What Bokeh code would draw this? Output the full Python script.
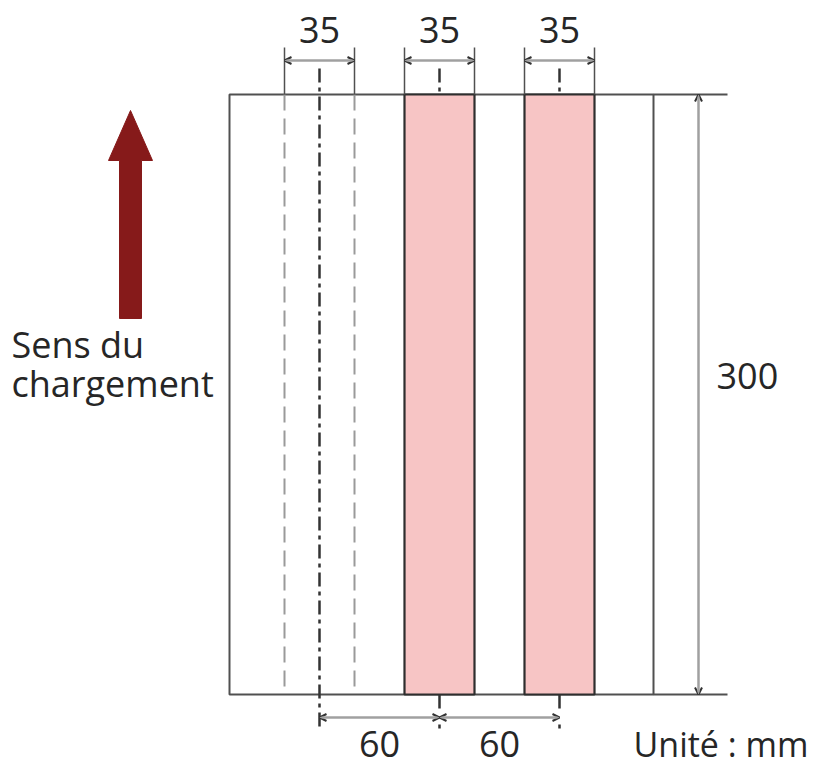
from bokeh.plotting import figure
from bokeh.models import Range1d, ColumnDataSource, Arrow, OpenHead
from bokeh.core.properties import value
from bokeh.embed import file_html
from bokeh.resources import INLINE

# ---- data (mm) ----
paper_width = 212
paper_height = 300
strip_width = 35
first_center = 45
center_spacings = [60, 60]
highlighted = [False, True, True]
strip_labels = ["35", "35", "35"]
spacing_labels = ["60", "60"]
height_label = "300"
unit_label = "Unité : mm"
direction_lines = ["Sens du", "chargement"]

centers = [first_center]
for s in center_spacings:
    centers.append(centers[-1] + s)

FONT = value("Open Sans")
TXT = "#262626"
EDGE = "#505050"
TY = 7  # baseline correction for svg text placement

p = figure(width=815, height=769, output_backend="svg", toolbar_location=None,
           x_range=Range1d(-114.5, 293), y_range=Range1d(-37.5, 347),
           min_border=0)
p.axis.visible = False
p.grid.visible = False
p.outline_line_color = None
p.background_fill_color = "white"

# paper
p.quad(left=[0], right=[paper_width], bottom=[0], top=[paper_height],
       fill_color="white", line_color=EDGE, line_width=2)
# extension of top / bottom edges for the height dimension
dim_x = paper_width + 22.5
p.segment(x0=[paper_width, paper_width], y0=[0, paper_height],
          x1=[dim_x + 14.5, dim_x + 14.5], y1=[0, paper_height],
          line_color=EDGE, line_width=2)

# strips
for c, hl in zip(centers, highlighted):
    l, r = c - strip_width / 2, c + strip_width / 2
    if hl:
        p.quad(left=[l], right=[r], bottom=[0], top=[paper_height],
               fill_color="#F7C5C5", line_color="#2e2e2e", line_width=2.2)
    else:
        p.segment(x0=[l, r], y0=[paper_height, paper_height], x1=[l, r], y1=[0, 0],
                  line_color="#9a9a9a", line_width=2, line_dash="16 8")
    # extension lines above paper
    p.segment(x0=[l, r], y0=[paper_height, paper_height], x1=[l, r], y1=[paper_height + 23.5] * 2,
              line_color=EDGE, line_width=1.5)

# centre lines
for c, hl in zip(centers, highlighted):
    if hl:
        p.line(x=[c, c], y=[paper_height + 13, paper_height], line_color="#333333",
               line_width=2.5, line_dash="14 5 4 5")
        p.line(x=[c, c], y=[0, -18], line_color="#333333",
               line_width=2.5, line_dash="14 16 4")
    else:
        p.line(x=[c, c], y=[paper_height + 13, -18], line_color="#333333",
               line_width=2.5, line_dash="14 5 4 5")

# dimension arrows
def dim_arrows(xs, ys, xe, ye):
    src = ColumnDataSource(dict(xs=xs, ys=ys, xe=xe, ye=ye))
    p.add_layout(Arrow(x_start="xs", y_start="ys", x_end="xe", y_end="ye", source=src,
                       line_color="#a0a0a0", line_width=2.5,
                       start=OpenHead(size=7, line_color="#333333", line_width=2),
                       end=OpenHead(size=7, line_color="#333333", line_width=2)))

top_y = paper_height + 17
dim_arrows([c - strip_width / 2 for c in centers], [top_y] * 3,
           [c + strip_width / 2 for c in centers], [top_y] * 3)
bot_y = -11.5
dim_arrows(centers[:-1], [bot_y] * 2, centers[1:], [bot_y] * 2)
dim_arrows([dim_x], [0], [dim_x], [paper_height])

# direction arrow (shaft + head)
ax = -49.5
shaft_half, head_half = 5.5, 11
shaft_bottom, head_base, tip = 188, 267, 292
p.patch(x=[ax - shaft_half, ax - shaft_half, ax - head_half, ax, ax + head_half, ax + shaft_half, ax + shaft_half],
        y=[shaft_bottom, head_base, head_base, tip, head_base, head_base, shaft_bottom],
        fill_color="#861A1A", line_color="#861A1A", line_width=1)

# texts
p.text(x=centers, y=[325.5 + TY] * 3, text=strip_labels, text_font=FONT, text_font_size="36px",
       text_align="center", text_baseline="alphabetic", text_color=TXT)
p.text(x=[(a + b) / 2 for a, b in zip(centers[:-1], centers[1:])], y=[-31.5 + TY] * 2,
       text=spacing_labels, text_font=FONT, text_font_size="36px",
       text_align="center", text_baseline="alphabetic", text_color=TXT)
p.text(x=[243.5], y=[152.5 + TY], text=[height_label], text_font=FONT, text_font_size="36px",
       text_align="left", text_baseline="alphabetic", text_color=TXT)
p.text(x=[289.5], y=[-31.5 + TY], text=[unit_label], text_font=FONT, text_font_size="34px",
       text_align="right", text_baseline="alphabetic", text_color=TXT)
p.text(x=[-109, -109], y=[168 + TY, 148.5 + TY], text=direction_lines, text_font=FONT,
       text_font_size="36px", text_align="left", text_baseline="alphabetic", text_color=TXT)

open("out.html", "w").write(file_html(p, INLINE))
